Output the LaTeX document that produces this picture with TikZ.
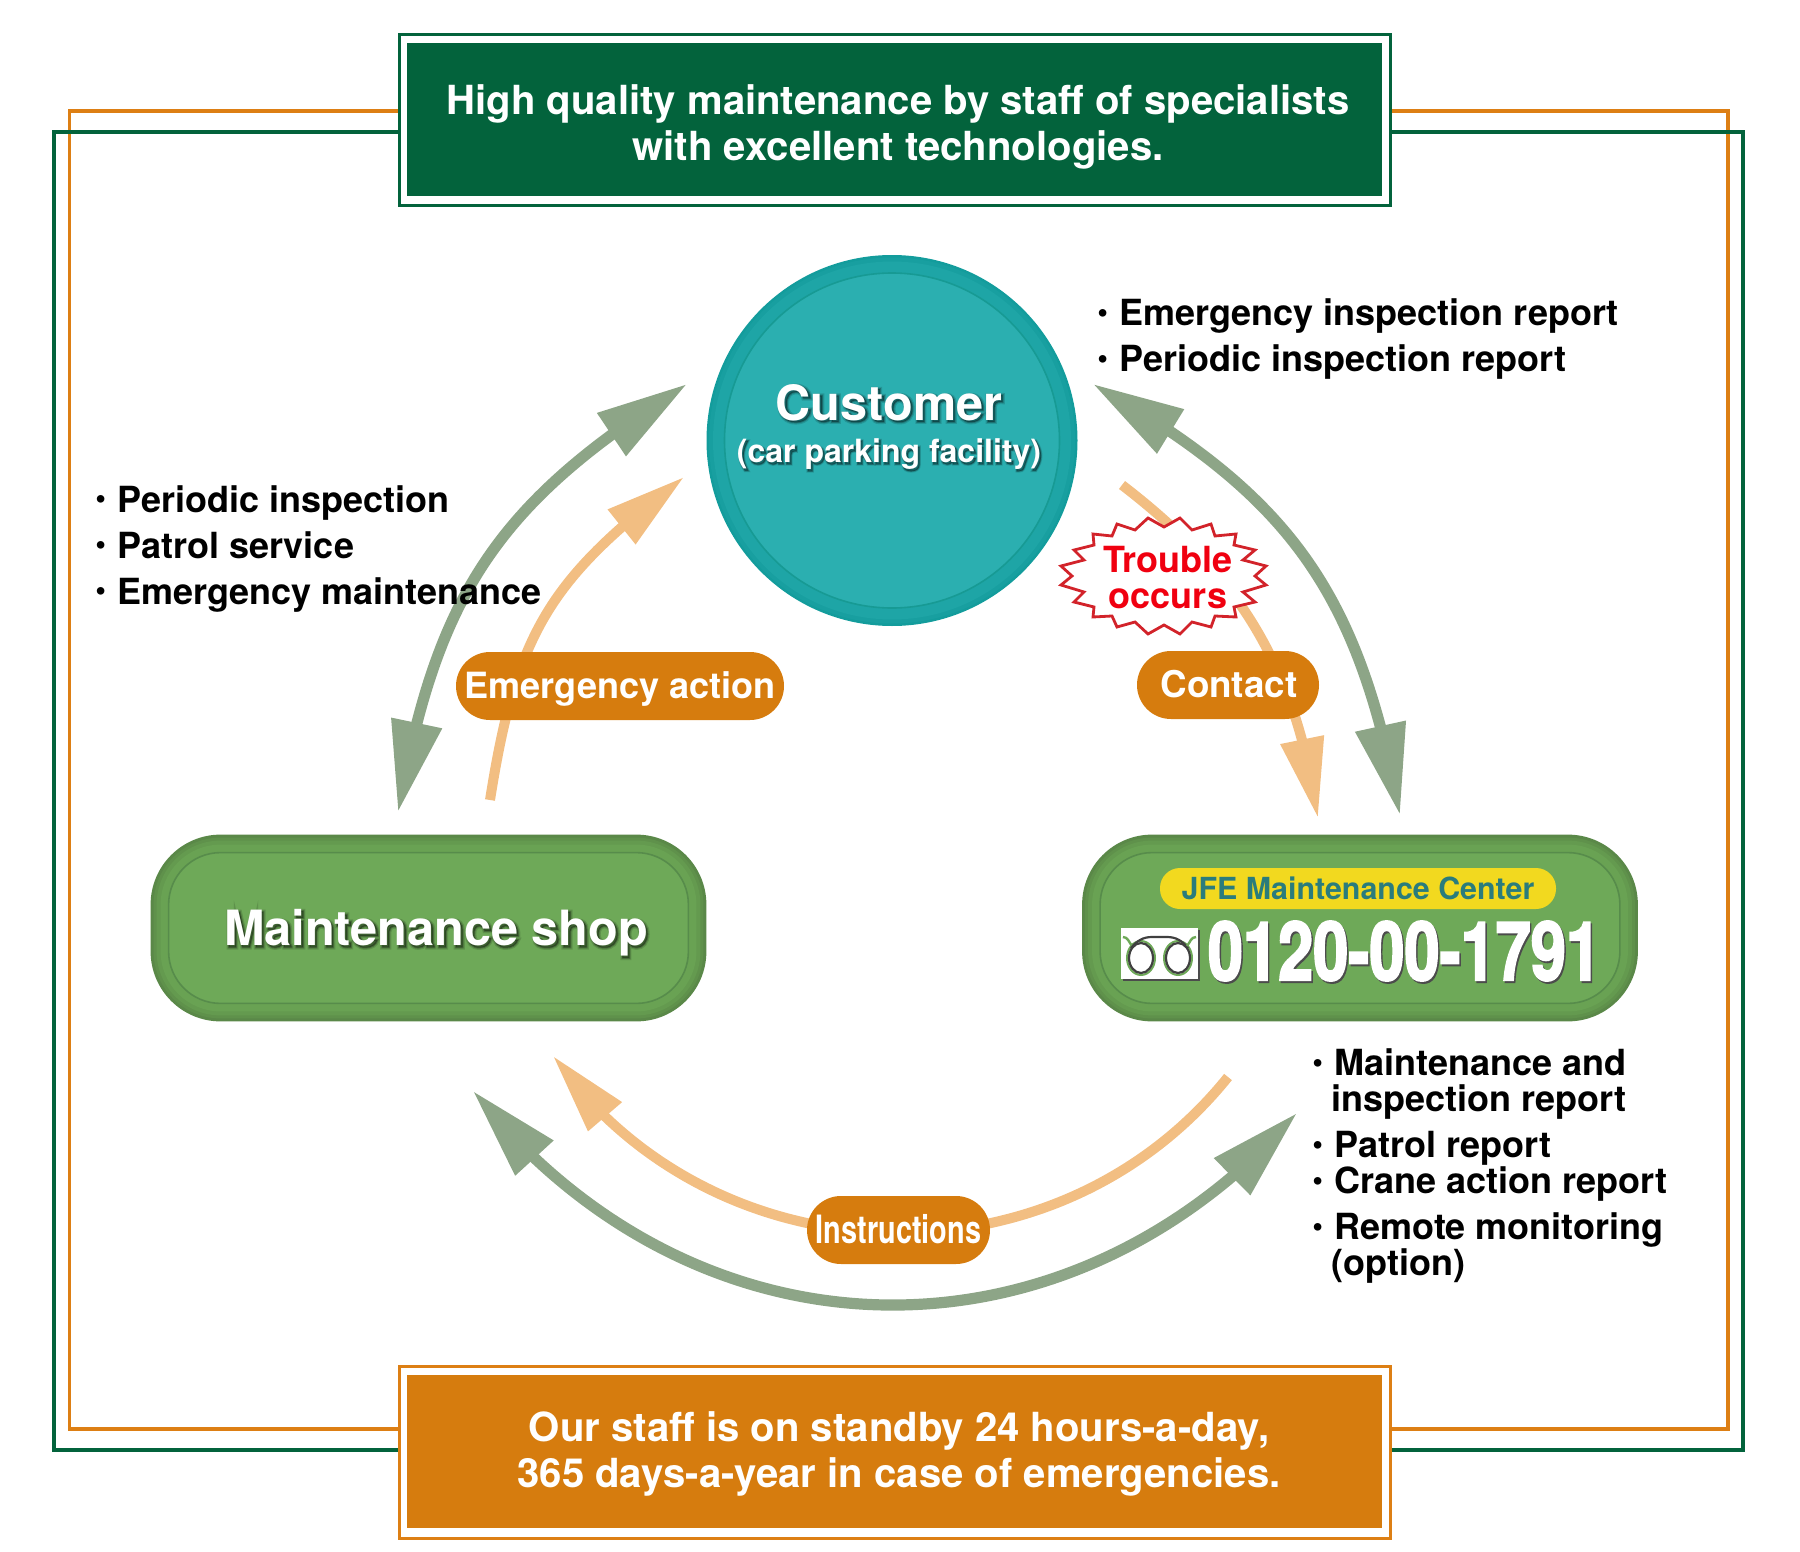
\documentclass[tikz,border=0pt]{standalone}
\usepackage{fontspec}
\setmainfont{TeX Gyre Heros}
\newfontfamily\phonefont[BoldFeatures={FakeStretch=0.77,FakeBold=2.2}]{TeX Gyre Heros}
\newfontfamily\slimfont[BoldFeatures={FakeStretch=0.74}]{TeX Gyre Heros}
\newfontfamily\glowwide[BoldFeatures={FakeBold=9}]{TeX Gyre Heros}
\newfontfamily\glownear[BoldFeatures={FakeBold=4}]{TeX Gyre Heros}
\usetikzlibrary{arrows.meta,bending,calc}

\definecolor{deepgreen}{HTML}{03633C}
\definecolor{deeporange}{HTML}{D67C0E}
\definecolor{frameorange}{HTML}{DD7F14}
\definecolor{sagearrow}{HTML}{8DA587}
\definecolor{peacharrow}{HTML}{F2BE82}
\definecolor{shopfill}{HTML}{6EA958}
\definecolor{shopring}{HTML}{578C4B}
\definecolor{shopA}{HTML}{5A8848}
\definecolor{shopB}{HTML}{5F914B}
\definecolor{shopC}{HTML}{649A4F}
\definecolor{shopD}{HTML}{69A253}
\definecolor{tealfill}{HTML}{2BAFB0}
\definecolor{tealring}{HTML}{179A94}
\definecolor{tealA}{HTML}{139C9C}
\definecolor{tealB}{HTML}{189FA0}
\definecolor{tealC}{HTML}{1EA5A6}
\definecolor{burstred}{HTML}{D2232A}
\definecolor{textred}{HTML}{F00010}
\definecolor{tagyellow}{HTML}{F2D91F}
\definecolor{tagtext}{HTML}{2A7C7C}

\begin{document}
\begin{tikzpicture}[x=0.5pt,y=-0.5pt]
	\useasboundingbox (0,0) rectangle (1800,1552);

	\tikzset{%
		sagecurve/.style={<->,>={Triangle[length=45.5pt,width=24.5pt,flex]},sagearrow,line width=5.6pt},
		peachcurve/.style={->,>={Triangle[length=40pt,width=21pt,flex]},peacharrow,line width=5pt},
		banner/.style={fill=#1,text=white,align=center,minimum width=487.5pt,inner sep=0pt},
		bannertext/.style={text=white,font=\fontsize{20.05}{23}\selectfont\bfseries,align=center,inner sep=0pt},
		bannerframe/.style={draw=#1,fill=white,line width=1.5pt},
		panel/.style={minimum width=277.5pt,minimum height=93pt,inner sep=0pt},
		pill/.style={fill=deeporange,text=white,rounded corners=17pt,minimum height=34pt,inner sep=0pt,text height=15.9pt,text depth=3.8pt,font=\fontsize{18.05}{18}\selectfont\bfseries},
		boldlabel/.style={align=center,inner sep=0pt},
		bullets/.style={anchor=north west,align=left,inner sep=0pt,font=\fontsize{18}{18}\selectfont\bfseries},
	}

	\newcommand*{\dotmark}{\makebox[11pt][l]{\raisebox{.1em}{\scalebox{.85}{\textbullet}}}}

	% soft edge made of nested outlines, ring on top
	\newcommand*{\bandbox}[1]{%
		\foreach \d/\r/\tone in {0/35/shopA,3/33.5/shopB,6/32/shopC,10/30/shopD}{
			\fill [\tone,rounded corners=\r pt] ($(#1.north west)+(\d,\d)$) rectangle ($(#1.south east)+(-\d,-\d)$);
		}
		\draw [shopring,fill=shopfill,line width=0.8pt,rounded corners=26pt] ($(#1.north west)+(18,18)$) rectangle ($(#1.south east)+(-18,-18)$);
	}

	% white label over two widened dark copies
	\newcommand*{\glowlabel}[4]{%
		\node (#1wide) [boldlabel,font=\glowwide,text=#3,text opacity=0.14] at ($(#2)+(1.5,1.5)$) {#4};
		\node (#1near) [boldlabel,font=\glownear,text=#3,text opacity=0.24] at ($(#2)+(1.5,1.5)$) {#4};
		\node (#1) [boldlabel,text=white] at (#2) {#4};
	}

	% outer frames
	\draw [frameorange,line width=1.6pt] (69.5,111) rectangle (1728,1429);
	\draw [deepgreen,line width=1.6pt] (54,132) rectangle (1743,1450);

	% banners
	\draw [bannerframe=deepgreen] (399,35) rectangle (1390,205);
	\node (headline) [banner=deepgreen,minimum height=76.5pt] at (894,119.5) {};
	\node (headtext) [bannertext] at (898,127) {High quality maintenance by staff of specialists\\with excellent technologies.};
	\draw [bannerframe=frameorange] (399,1366) rectangle (1390,1538);
	\node (footline) [banner=deeporange,minimum height=76.5pt] at (894,1451.5) {};
	\node (foottext) [bannertext] at (899,1454) {Our staff is on standby 24 hours-a-day,\\365 days-a-year in case of emergencies.};

	% customer disc
	\node (customer) [circle,minimum size=185.5pt,inner sep=0pt] at (892,440.5) {};
	\foreach \r/\tone in {185.5/tealA,183/tealB,179/tealC}{
		\fill [\tone] (customer) circle (\r);
	}
	\draw [tealring,fill=tealfill,line width=0.8pt] (customer) circle (167.5);
	\glowlabel{customertext}{889,427}{black}{\fontsize{24.3}{24}\selectfont\bfseries Customer\\[8pt]\fontsize{16}{24}\selectfont\bfseries (car parking facility)}

	% the two rounded panels
	\node (shop) [panel] at (428.5,928) {};
	\bandbox{shop}
	\glowlabel{shoptext}{436,933}{black}{\fontsize{24.3}{24}\selectfont\bfseries Maintenance shop}

	\node (center) [panel] at (1360,928) {};
	\bandbox{center}
	\node (centertag) [fill=tagyellow,text=tagtext,rounded corners=10pt,minimum width=198pt,minimum height=20.5pt,inner sep=0pt,font=\fontsize{15.2}{15}\selectfont\bfseries] at (1358,888.5) {JFE Maintenance Center};

	% free dial mark
	\fill [black!70] (1123,930) rectangle (1200,981);
	\node (dialmark) [fill=white,minimum width=38.5pt,minimum height=25.5pt,inner sep=0pt] at (1159.5,953.5) {};
	\draw [shopfill,line width=1pt] (1141,958) ellipse (14 and 17);
	\draw [shopfill,line width=1pt] (1178,958) ellipse (14 and 17);
	\draw [black!75,line width=1.1pt] (1141,958) ellipse (12 and 15);
	\draw [black!75,line width=1.1pt] (1178,958) ellipse (12 and 15);
	\draw [shopfill,line width=1.2pt] (1123,937) to[out=0,in=130] (1132,946);
	\draw [black!75,line width=1.1pt] (1131,948) to[out=50,in=180] (1152,937) -- (1167,937) to[out=0,in=130] (1188,948);
	\draw [shopfill,line width=1.2pt] (1196,937) to[out=180,in=50] (1187,946);
	\node (phoneshade) [text=black!70,font=\fontsize{41}{41}\phonefont\bfseries\selectfont,inner sep=0pt] at (1406,953) {0120-00-1791};
	\node (phone) [text=white,font=\fontsize{41}{41}\phonefont\bfseries\selectfont,inner sep=0pt] at (1404.5,951) {0120-00-1791};

	% arrow ends
	\coordinate (shopup) at (398,812);
	\coordinate (customerleft) at (687,384);
	\coordinate (customerright) at (1093,384);
	\coordinate (centerup) at (1400,815);
	\coordinate (shopdown) at (473,1091);
	\coordinate (centerdown) at (1297,1113);
	\coordinate (shopflow) at (490,800);
	\coordinate (customerflow) at (684,477);
	\coordinate (troublestart) at (1122,485);
	\coordinate (centerflow) at (1318,818);
	\coordinate (centerback) at (1228,1077);
	\coordinate (shopback) at (553,1056);

	\draw [sagecurve] (shopup) to[bend left=24,looseness=1.1] (customerleft);
	\draw [sagecurve] (customerright) to[bend left=25,looseness=1.1] (centerup);
	\draw [sagecurve] (shopdown) to[bend right=50,looseness=1.095] (centerdown);

	\draw [peachcurve] (shopflow) to[bend left=22,looseness=1.15] (customerflow);
	\draw [peachcurve] (troublestart) to[bend left=22] (centerflow);
	\draw [peachcurve] (centerback) to[bend left=53,looseness=1.05] (shopback);

	% pills on the flows
	\node (emergency) [pill,minimum width=164pt] at (620,686) {Emergency action};
	\node (contact) [pill,minimum width=91pt,font=\fontsize{18.4}{18}\selectfont\bfseries] at (1228,685) {\hspace*{1pt}Contact};
	\node (instructions) [pill,minimum width=91.5pt,text height=14pt,text depth=0.5pt,font=\fontsize{19.5}{19.5}\slimfont\bfseries\selectfont] at (898.5,1230) {Instructions};

	% trouble burst
	\draw [burstred,fill=white,line width=1.4pt,line join=miter,miter limit=3] plot coordinates {
		(1148,518) (1164,527) (1180,518) (1192,530) (1211,524) (1215,536) (1236,534) (1234,545)
		(1255,550) (1243,560) (1266,566) (1255,576) (1266,585) (1243,592) (1255,602) (1234,607)
		(1236,617) (1215,616) (1211,627) (1192,622) (1180,634) (1164,625) (1148,634) (1135,622)
		(1117,627) (1112,616) (1093,617) (1094,607) (1074,602) (1084,592) (1061,585) (1072,576)
		(1061,566) (1084,560) (1074,550) (1094,545) (1093,534) (1112,536) (1117,524) (1135,530)
	} -- cycle;
	\node (trouble) [text=textred,align=center,inner sep=0pt,font=\fontsize{18}{18}\selectfont\bfseries] at (1168,578) {Trouble\\occurs};

	% service lists
	\node (reportlist) [bullets] at (1097,298.5) {\dotmark Emergency inspection report\\[5pt]\dotmark Periodic inspection report};
	\node (servicelist) [bullets] at (95,485) {\dotmark Periodic inspection\\[5pt]\dotmark Patrol service\\[5pt]\dotmark Emergency maintenance};
	\node (centerlist) [bullets] at (1312,1048.5) {\dotmark Maintenance and\\\hspace*{9.5pt}inspection report\\[5pt]\dotmark Patrol report\\\dotmark Crane action report\\[5pt]\dotmark Remote monitoring\\\hspace*{9.5pt}(option)};
\end{tikzpicture}
\end{document}
